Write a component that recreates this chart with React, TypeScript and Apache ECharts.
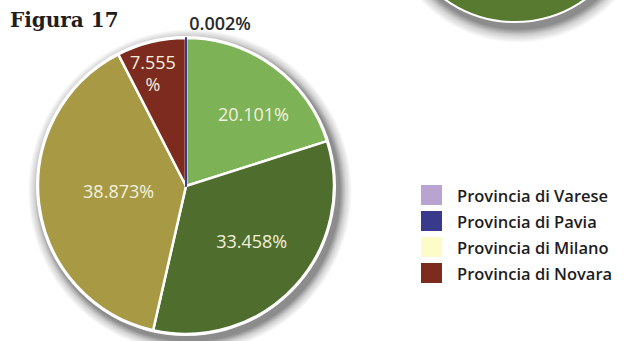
import React, { useEffect, useRef } from "react";
import * as echarts from "echarts";

// ---- data ----
const sliceNames = [
  "Settore verde chiaro",
  "Settore verde scuro",
  "Settore oliva",
  "Provincia di Novara",
  "Provincia di Varese",
  "Provincia di Milano",
  "Provincia di Pavia",
];
const sliceValues = [20.101, 33.458, 38.873, 7.555, 0, 0, 0.002];
const sliceColors = ["#7db356", "#4f6d2c", "#a89a44", "#7d2b1e", "#b9a4d1", "#fdfbc8", "#3a3a8c"];
const legendNames = ["Provincia di Varese", "Provincia di Pavia", "Provincia di Milano", "Provincia di Novara"];
// label offsets from the default inside position (style only)
const labelOffsets = [
  [22, -10],
  [9, 3],
  [9, -5],
  [-15, -38],
  [0, 0],
  [0, 0],
  [34, -86],
];
const titleText = "Figura 17";
const neighbourValues = [100];

function shadowGradient(inner: number) {
  return {
    type: "radial",
    x: 0.5,
    y: 0.5,
    r: 0.5,
    colorStops: [
      { offset: 0, color: "rgba(0,0,0,0.5)" },
      { offset: inner, color: "rgba(0,0,0,0.45)" },
      { offset: inner + (1 - inner) * 0.45, color: "rgba(0,0,0,0.18)" },
      { offset: 1, color: "rgba(0,0,0,0)" },
    ],
  };
}

export default function App() {
  const ref = useRef<HTMLDivElement>(null);
  useEffect(() => {
    if (!ref.current) return;
    const chart = echarts.init(ref.current, undefined, { renderer: "svg" });
    const cx = 186;
    const cy = 186;
    const R = 148;
    const S = 14;
    const nCx = 515;
    const nCy = -98;
    const nR = 120;
    const labelFont = "'Open Sans', 'Noto Sans', sans-serif";
    const data = sliceNames.map((name, i) => {
      const item: any = {
        name,
        value: sliceValues[i],
        itemStyle: { color: sliceColors[i] },
      };
      if (sliceValues[i] === 0) {
        item.itemStyle.borderWidth = 0;
        item.label = { show: false };
      }
      if (name === "Provincia di Pavia") {
        item.itemStyle.borderColor = sliceColors[i];
        item.itemStyle.borderWidth = 2;
        item.label = { color: "#2a2a2a", fontWeight: 600, fontSize: 18 };
      }
      if (name === "Provincia di Novara") {
        item.label = { formatter: "{c}\n%", lineHeight: 22 };
      }
      return item;
    });
    const deco = (center: number[], radius: number, color: any, z: number) => ({
      type: "pie",
      z,
      silent: true,
      center,
      radius,
      label: { show: false },
      labelLine: { show: false },
      itemStyle: { color, borderWidth: 0 },
      data: [{ name: "", value: 1 }],
    });
    chart.setOption({
      animation: false,
      backgroundColor: "#ffffff",
      title: {
        text: titleText,
        left: 10,
        top: 10,
        padding: 0,
        textStyle: {
          fontFamily: "'DejaVu Serif', serif",
          fontWeight: "bold",
          fontSize: 20,
          color: "#1e1e1e",
        },
      },
      legend: {
        data: legendNames,
        orient: "vertical",
        left: 421,
        top: 185,
        padding: 0,
        itemWidth: 21,
        itemHeight: 20,
        itemGap: 6,
        selectedMode: false,
        icon: "rect",
        itemStyle: { borderWidth: 0 },
        textStyle: {
          fontFamily: labelFont,
          fontSize: 16.5,
          fontWeight: 600,
          color: "#1e1e1e",
          padding: [0, 0, 0, 10],
        },
      },
      series: [
        deco([nCx + 3, nCy + 7], nR + S, shadowGradient(nR / (nR + S)), 1),
        {
          type: "pie",
          z: 1,
          silent: true,
          center: [nCx, nCy],
          radius: nR,
          label: { show: false },
          labelLine: { show: false },
          itemStyle: {
            color: "#577a30",
            borderColor: "#ffffff",
            borderWidth: 2,
          },
          data: neighbourValues.map((v) => ({ name: "", value: v })),
        },
        deco([cx + 4, cy + 5], R + S, shadowGradient((R + 2) / (R + S)), 1),
        deco([cx, cy], R + 2, "#ffffff", 1),
        {
          type: "pie",
          z: 2,
          silent: true,
          center: [cx, cy],
          radius: R,
          startAngle: 90,
          clockwise: true,
          avoidLabelOverlap: false,
          itemStyle: { borderColor: "#ffffff", borderWidth: 2.5 },
          label: {
            show: true,
            position: "inside",
            fontFamily: labelFont,
            fontSize: 18,
            fontWeight: 500,
            color: "#f3f1de",
            formatter: (p: any) => `${Number(p.value).toFixed(3)}%`,
          },
          labelLine: { show: false },
          labelLayout: (p: any) => ({
            dx: labelOffsets[p.dataIndex][0],
            dy: labelOffsets[p.dataIndex][1],
          }),
          data,
        },
      ],
    });
    return () => chart.dispose();
  }, []);
  return (
    <div
      ref={ref}
      style={{ position: "fixed", left: 0, top: 0, width: 628, height: 341 }}
    />
  );
}
